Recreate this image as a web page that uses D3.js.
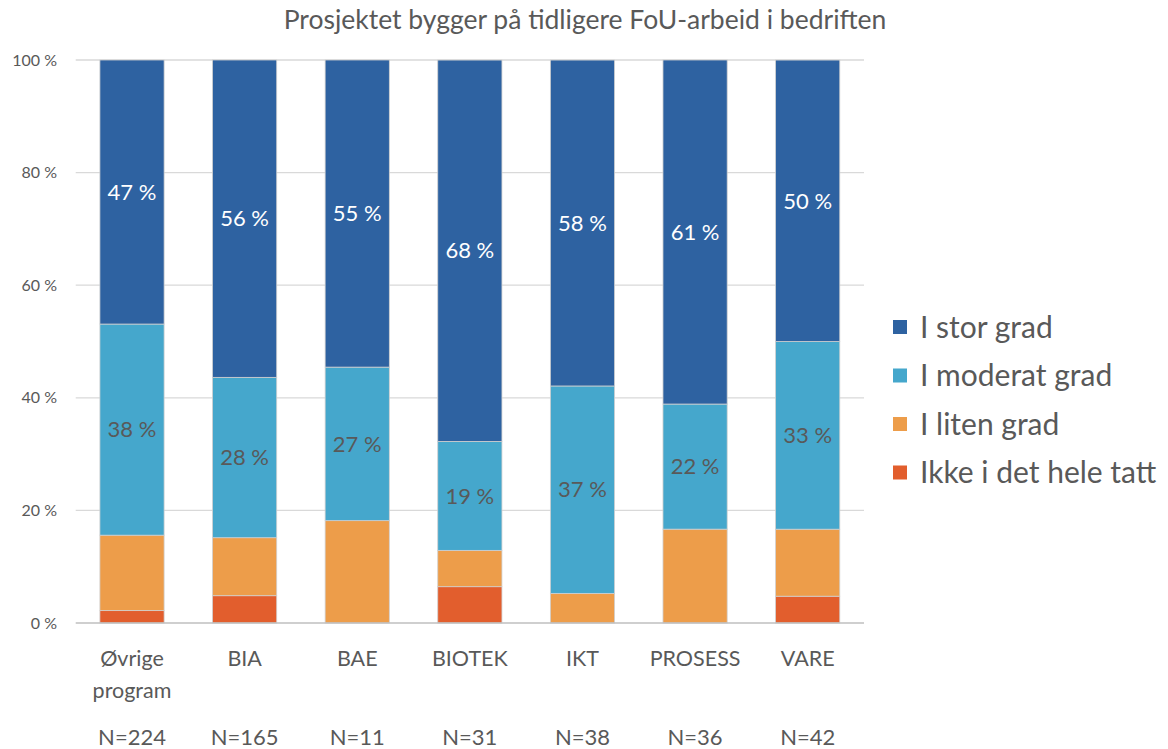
<!DOCTYPE html>
<html><head><meta charset="utf-8">
<script src="https://cdn.jsdelivr.net/npm/d3@7"></script>
<style>body{margin:0;background:#fff}svg{display:block}text{font-family:Lato,"Open Sans",sans-serif}</style>
</head><body><svg id="c" width="1168" height="749"></svg>
<script>
const title = "Prosjektet bygger på tidligere FoU-arbeid i bedriften";
const categories = ["Øvrige\nprogram","BIA","BAE","BIOTEK","IKT","PROSESS","VARE"];
const nLabels = ["N=224","N=165","N=11","N=31","N=38","N=36","N=42"];
const seriesNames = ["Ikke i det hele tatt","I liten grad","I moderat grad","I stor grad"];
const ikke     = [2.2, 4.85, 0.0, 6.45, 0.0, 0.0, 4.76];
const liten    = [13.4, 10.30, 18.18, 6.45, 5.26, 16.67, 11.90];
const moderat  = [37.5, 28.48, 27.27, 19.35, 36.84, 22.22, 33.33];
const stor     = [46.9, 56.37, 54.55, 67.74, 57.89, 61.11, 50.0];
const yTicks = [0,20,40,60,80,100];
const colors = ["#e25e2d","#ed9d4a","#45a7cc","#2e62a1"];
const labelColors = [null, null, "#595959", "#ffffff"];

const svg = d3.select("#c");
const x = d3.scaleBand().domain(d3.range(categories.length)).range([75.7, 864]).paddingInner(0.43).paddingOuter(0.215);
const y = d3.scaleLinear().domain([0,100]).range([623, 60]);

svg.append("text").attr("x",585).attr("y",29).attr("text-anchor","middle")
  .attr("font-size",26.5).attr("fill","#595959").text(title);

// gridlines
svg.append("g").selectAll("line").data(yTicks.filter(d=>d>0)).join("line")
  .attr("x1",75.7).attr("x2",864).attr("y1",d=>y(d)).attr("y2",d=>y(d))
  .attr("stroke","#d9d9d9").attr("stroke-width",1.3);

const yAxis = svg.append("g").attr("transform","translate(57,0)")
  .call(d3.axisLeft(y).tickValues(yTicks).tickFormat(d=>d+" %").tickSize(0).tickPadding(0));
yAxis.select(".domain").remove();
yAxis.selectAll("text").attr("font-size",16).attr("fill","#595959").attr("font-family","Lato,'Open Sans',sans-serif");

const seriesData = [ikke, liten, moderat, stor];
const stacked = categories.map((c,i)=>{
  let base=0; return seriesData.map((s,k)=>{const o={k,i,y0:base,y1:base+s[i],v:s[i]}; base+=s[i]; return o;});
}).flat();

svg.append("g").selectAll("rect").data(stacked.filter(d=>d.v>0)).join("rect")
  .attr("x",d=>x(d.i)).attr("width",x.bandwidth())
  .attr("y",d=>y(d.y1)).attr("height",d=>y(d.y0)-y(d.y1))
  .attr("fill",d=>colors[d.k]).attr("stroke","#d0d0d0").attr("stroke-width",0.8);

svg.append("g").selectAll("text").data(stacked.filter(d=>labelColors[d.k])).join("text")
  .attr("x",d=>x(d.i)+x.bandwidth()/2).attr("y",d=>(y(d.y0)+y(d.y1))/2)
  .attr("dy","0.35em").attr("text-anchor","middle").attr("font-size",22)
  .attr("fill",d=>labelColors[d.k]).text(d=>Math.round(d.v)+" %");

// x axis line
svg.append("line").attr("x1",75.7).attr("x2",864).attr("y1",623).attr("y2",623)
  .attr("stroke","#bfbfbf").attr("stroke-width",1.3);

const xl = svg.append("g").selectAll("text").data(categories).join("text")
  .attr("x",(d,i)=>x(i)+x.bandwidth()/2).attr("y",666).attr("text-anchor","middle")
  .attr("font-size",21.5).attr("fill","#595959");
xl.each(function(d){const t=d3.select(this); d.split("\n").forEach((l,j)=>t.append("tspan").attr("x",t.attr("x")).attr("dy",j?32:0).text(l));});

svg.append("g").selectAll("text").data(nLabels).join("text")
  .attr("x",(d,i)=>x(i)+x.bandwidth()/2).attr("y",745).attr("text-anchor","middle")
  .attr("font-size",22).attr("fill","#595959").text(d=>d);

// legend
const legOrder = [3,2,1,0];
const lg = svg.append("g").selectAll("g").data(legOrder).join("g")
  .attr("transform",(d,j)=>`translate(893,${327+j*48.5})`);
lg.append("rect").attr("x",0).attr("y",-7).attr("width",14).attr("height",14).attr("fill",d=>colors[d]);
lg.append("text").attr("x",27).attr("dy","0.35em").attr("font-size",30).attr("fill","#595959").text(d=>seriesNames[d]);
</script></body></html>
